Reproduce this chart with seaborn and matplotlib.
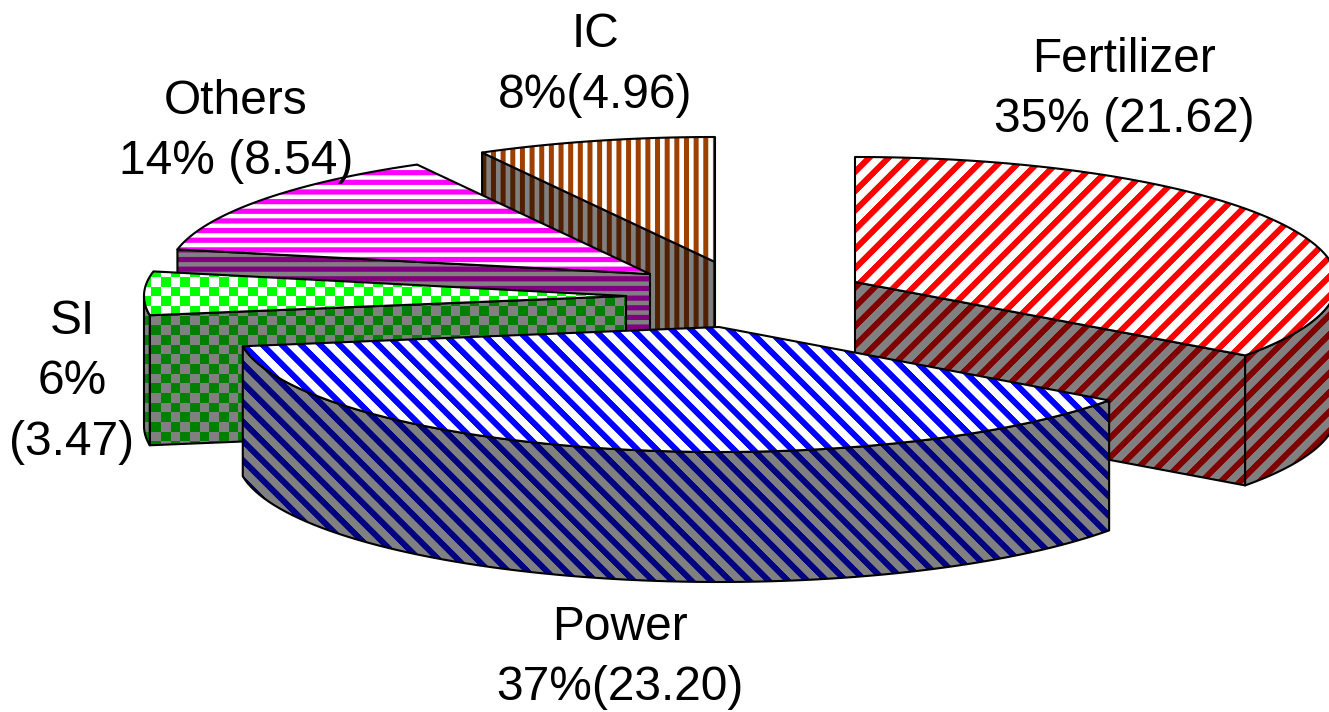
import numpy as np
import pandas as pd
import seaborn as sns
import matplotlib
matplotlib.use("Agg")
import matplotlib.pyplot as plt
from matplotlib.patches import Polygon

# Sector shares, drawn clockwise from twelve o'clock
sectors = ["Fertilizer", "Power", "SI", "Others", "IC"]
consumption = [21.62, 23.20, 3.47, 8.54, 4.96]
label_lines = [
    ["Fertilizer", "35% (21.62)"],
    ["Power", "37%(23.20)"],
    ["SI", "6%", "(3.47)"],
    ["Others", "14% (8.54)"],
    ["IC", "8%(4.96)"],
]

# Layout of the exploded slices, in pixels
WIDTH, HEIGHT = 1329, 712
RX, RY, DEPTH = 482, 125, 130
apex_x = [855, 719, 626, 650, 715]
apex_y = [282, 327, 296, 274, 262]
label_x = [1124, 620, 72, 236, 595]
label_y = [72, 640, 334, 114, 47]
LINE_STEP = 60.5
draw_order = [4, 3, 2, 0, 1]

# Fill styles: pattern kind, pattern colour on top, pattern colour on the walls
kinds = ["slash", "back", "check", "horiz", "vert"]
top_colors = ["#ff0000", "#0000ff", "#00ff00", "#ff00ff", "#a04000"]
wall_colors = ["#800000", "#000080", "#008000", "#800080", "#502000"]
TILE = 19.3

sns.set_theme(style="white")
plt.rcParams["font.family"] = ["Liberation Sans", "DejaVu Sans"]

table = pd.DataFrame({"sector": sectors, "value": consumption})
table["share"] = table["value"] / table["value"].sum()
table["end"] = table["share"].cumsum() * 360.0
table["start"] = table["end"] - table["share"] * 360.0

fig = plt.figure(figsize=(WIDTH / 100, HEIGHT / 100), dpi=100)
ax = fig.add_axes([0, 0, 1, 1])
ax.set_xlim(0, WIDTH)
ax.set_ylim(HEIGHT, 0)
sns.despine(ax=ax, left=True, bottom=True)
ax.set_xticks([])
ax.set_yticks([])

px, py = np.meshgrid(np.arange(WIDTH) + 0.5, np.arange(HEIGHT) + 0.5)


def band(coord, period, width):
    """Soft-edged periodic stripes along a coordinate."""
    phase = np.abs(np.mod(coord, period) - period / 2)
    return np.clip(width / 2 - phase + 0.5, 0, 1)


def pattern_mask(kind):
    if kind == "slash":
        return band(px + py + 5.65, TILE, 8.5)
    if kind == "back":
        return band(px - py - 4.55, TILE, 8.5)
    if kind == "horiz":
        return band(py - 3.8, TILE / 2, 5.2)
    if kind == "vert":
        return band(px + 3.5, TILE / 2, 5.0)
    a = np.floor((px + 3.0) / (TILE / 2))
    b = np.floor((py + 2.7) / (TILE / 2))
    return (np.mod(a + b, 2) == 0).astype(float)


def rim(theta_deg, cx, cy):
    t = np.radians(theta_deg)
    return cx + RX * np.sin(t), cy - RY * np.cos(t)


def patterned(points, mask, color, background, z):
    """Fill a polygon with a two-colour pattern and outline it in black."""
    fg = np.array(matplotlib.colors.to_rgb(color))
    bg = np.array(matplotlib.colors.to_rgb(background))
    raster = bg[None, None, :] * (1 - mask[..., None]) + fg[None, None, :] * mask[..., None]
    image = ax.imshow(raster, extent=(0, WIDTH, HEIGHT, 0), aspect="auto",
                      interpolation="nearest", zorder=z)
    outline = Polygon(points, closed=True, facecolor="none", edgecolor="black",
                      linewidth=1.5, joinstyle="round", zorder=z + 0.5)
    ax.add_patch(outline)
    image.set_clip_path(outline)


def wall_visible(theta, outward, cx, cy):
    """A radial wall shows when its outward normal points down the page."""
    rx_, ry_ = rim(theta, cx, cy)
    ox, oy = rim(theta + outward, cx, cy)
    dx, dy = rx_ - cx, ry_ - cy
    nx, ny = -dy, dx
    if nx * (ox - cx) + ny * (oy - cy) < 0:
        nx, ny = -nx, -ny
    return ny > 1e-6


z = 2
for i in draw_order:
    row = table.iloc[i]
    cx, cy = apex_x[i], apex_y[i]
    mask = pattern_mask(kinds[i])

    # Flat radial walls
    for theta, outward in ((row["start"], -1.0), (row["end"], 1.0)):
        if wall_visible(theta, outward, cx, cy):
            x_r, y_r = rim(theta, cx, cy)
            quad = [(cx, cy), (x_r, y_r), (x_r, y_r + DEPTH), (cx, cy + DEPTH)]
            patterned(quad, mask, wall_colors[i], "#808080", z)
            z += 1

    # Curved outer wall, only where it faces the viewer
    lo, hi = max(row["start"], 90.0), min(row["end"], 270.0)
    if hi > lo:
        arc = np.linspace(lo, hi, 80)
        xs, ys = rim(arc, cx, cy)
        band_pts = list(zip(xs, ys)) + list(zip(xs[::-1], ys[::-1] + DEPTH))
        patterned(band_pts, mask, wall_colors[i], "#808080", z)
        z += 1

    # Top face
    arc = np.linspace(row["start"], row["end"], 160)
    xs, ys = rim(arc, cx, cy)
    top_pts = [(cx, cy)] + list(zip(xs, ys))
    patterned(top_pts, mask, top_colors[i], "#ffffff", z)
    z += 1

ax.set_xlim(0, WIDTH)
ax.set_ylim(HEIGHT, 0)

for lines, x, y in zip(label_lines, label_x, label_y):
    for k, line in enumerate(lines):
        ax.text(x, y + k * LINE_STEP, line, ha="center", va="baseline",
                fontsize=34.5, color="black", zorder=200)

fig.savefig("out.png", dpi=100, facecolor="white")
